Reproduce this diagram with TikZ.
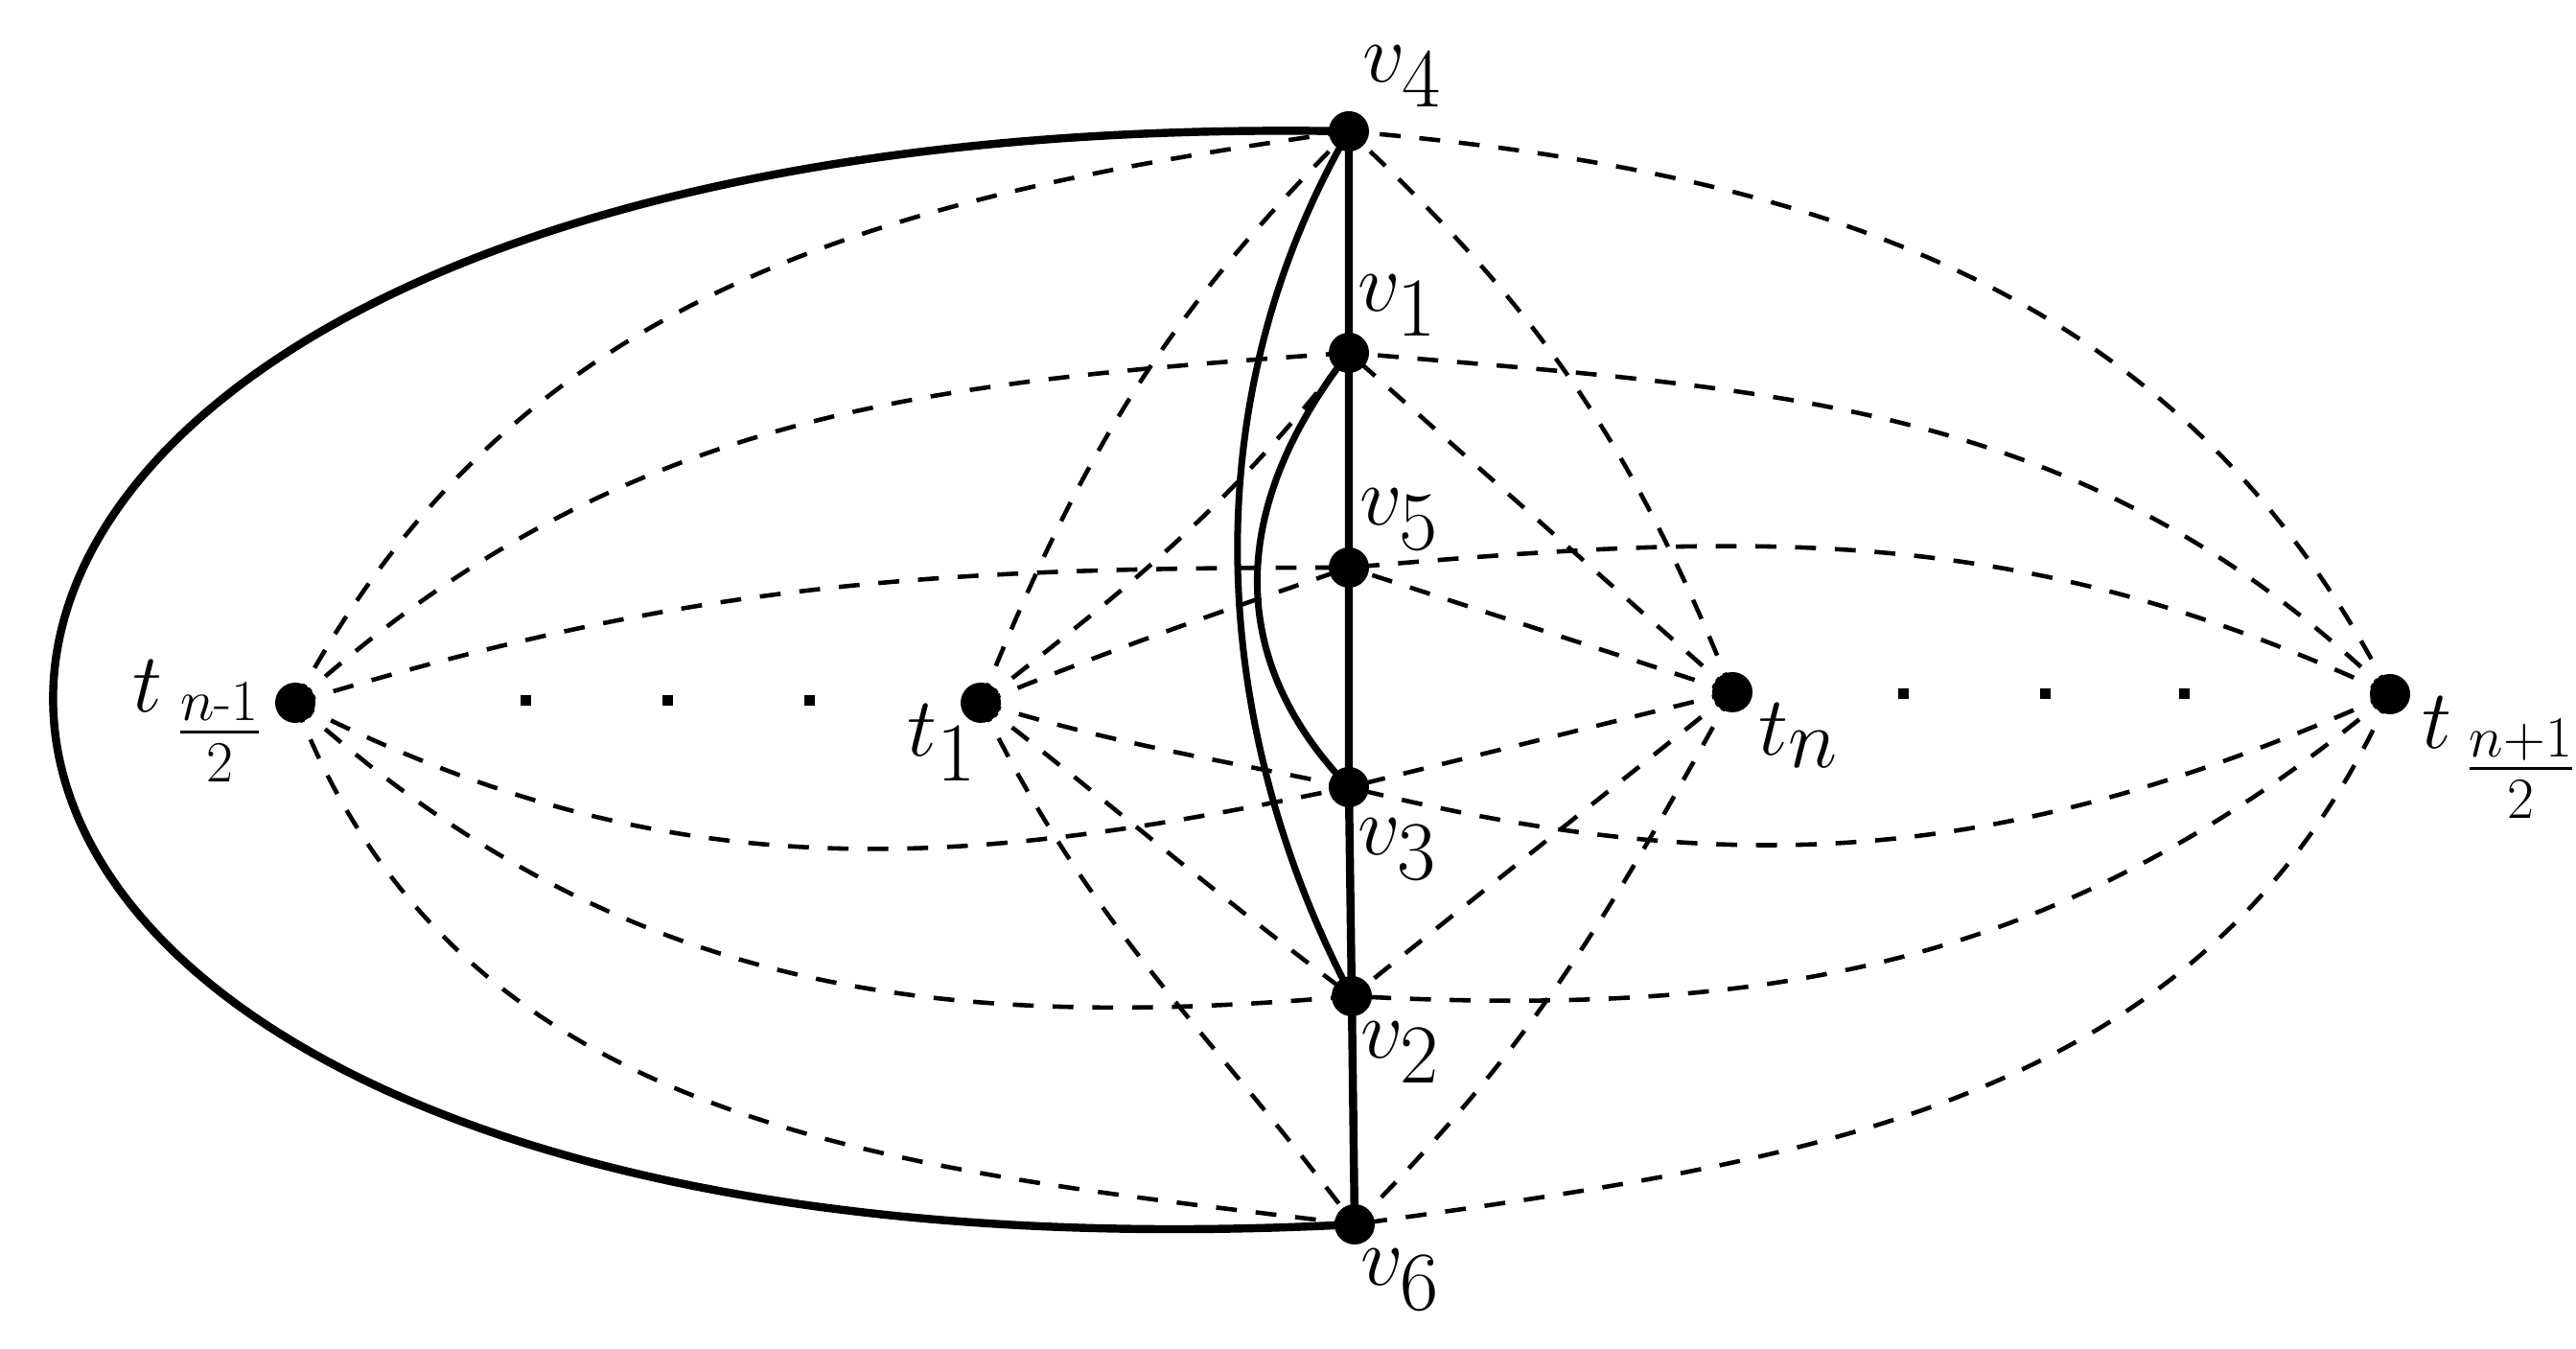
\documentclass[tikz,border=0pt]{standalone}
\usepackage{amsmath,amssymb}
\usetikzlibrary{positioning}

\begin{document}
\begin{tikzpicture}[vtx/.style={circle,fill=black,inner sep=0pt,minimum size=4.2mm},
  lbl/.style={font=\fontsize{34}{40}\selectfont,inner sep=1pt,anchor=west},
  thickline/.style={line width=2.4pt},
  bendline/.style={line width=2pt},
  dashline/.style={line width=1.3pt,dash pattern=on 6.2pt off 5.6pt},
  gapdot/.style={rectangle,fill=black,inner sep=0pt,minimum size=1.1mm}]
\useasboundingbox (0,0) rectangle (26.87,14.07);
\node[vtx] (v4) at (14.07,12.70) {};
\node[vtx] (v1) at (14.07,10.39) {};
\node[vtx] (v5) at (14.07,8.15) {};
\node[vtx] (v3) at (14.07,5.86) {};
\node[vtx] (v2) at (14.10,3.68) {};
\node[vtx] (v6) at (14.13,1.30) {};
\node[vtx] (tL) at (3.08,6.74) {};
\node[vtx] (t1) at (10.23,6.74) {};
\node[vtx] (tn) at (18.07,6.85) {};
\node[vtx] (tR) at (24.93,6.83) {};

\node[lbl] (v4lab) at (14.17,13.27) {$v_4$};
\node[lbl] (v1lab) at (14.12,10.88) {$v_1$};
\node[lbl] (v5lab) at (14.14,8.65) {$v_5$};
\node[lbl] (v3lab) at (14.12,5.21) {$v_3$};
\node[lbl] (v2lab) at (14.15,3.09) {$v_2$};
\node[lbl] (v6lab) at (14.15,0.72) {$v_6$};
\node[lbl,anchor=east] (tLlab) at (2.80,6.55) {$t_{\,\frac{n\text{-}1}{2}}$};
\node[lbl] (t1lab) at (9.42,6.32) {$t_1$};
\node[lbl] (tnlab) at (18.30,6.40) {$t_n$};
\node[lbl] (tRlab) at (25.22,6.17) {$t_{\,\frac{n+1}{2}}$};

\node[gapdot] (gl1) at (5.48,6.76) {};
\node[gapdot] (gl2) at (6.96,6.76) {};
\node[gapdot] (gl3) at (8.44,6.76) {};
\node[gapdot] (gr1) at (19.85,6.83) {};
\node[gapdot] (gr2) at (21.33,6.83) {};
\node[gapdot] (gr3) at (22.78,6.83) {};

\draw[thickline] (v4.center) -- (v1.center) -- (v5.center) -- (v3.center) -- (v2.center) -- (v6.center);
\draw[thickline] (v4.center) to[out=179,in=183,looseness=4.05] (v6.center);
\draw[bendline] (v4.center) .. controls +(240:3.6) and +(118:2.8) .. (v2.center);
\draw[bendline] (v1.center) to[out=232,in=134,looseness=1.1] (v3.center);

\draw[dashline] (tL.center) to[out=62,in=188] (v4.center);
\draw[dashline] (tL.center) to[out=42,in=184] (v1.center);
\draw[dashline] (tL.center) to[out=17,in=180] (v5.center);
\draw[dashline] (tL.center) to[out=-27,in=192] (v3.center);
\draw[dashline] (tL.center) to[out=-42,in=185] (v2.center);
\draw[dashline] (tL.center) to[out=-69,in=173] (v6.center);

\draw[dashline] (tR.center) to[out=117,in=355] (v4.center);
\draw[dashline] (tR.center) to[out=136,in=355] (v1.center);
\draw[dashline] (tR.center) to[out=155,in=5] (v5.center);
\draw[dashline] (tR.center) to[out=204,in=-14] (v3.center);
\draw[dashline] (tR.center) to[out=220,in=-3] (v2.center);
\draw[dashline] (tR.center) to[out=246,in=8] (v6.center);

\draw[dashline] (t1.center) to[out=68,in=225] (v4.center);
\draw[dashline] (t1.center) to[out=38,in=232] (v1.center);
\draw[dashline] (t1.center) to[out=22,in=199] (v5.center);
\draw[dashline] (t1.center) to[out=-17,in=168] (v3.center);
\draw[dashline] (t1.center) to[out=-38,in=143] (v2.center);
\draw[dashline] (t1.center) to[out=-64,in=127] (v6.center);

\draw[dashline] (tn.center) to[out=112,in=317] (v4.center);
\draw[dashline] (tn.center) -- (v1.center);
\draw[dashline] (tn.center) -- (v5.center);
\draw[dashline] (tn.center) -- (v3.center);
\draw[dashline] (tn.center) -- (v2.center);
\draw[dashline] (tn.center) to[out=241,in=45] (v6.center);
\end{tikzpicture}
\end{document}
